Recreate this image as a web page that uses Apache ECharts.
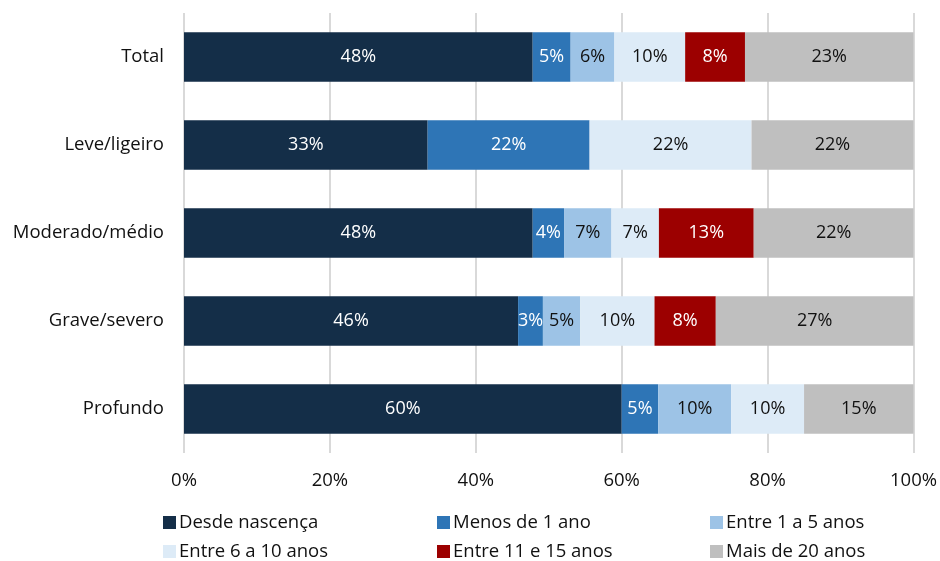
<!DOCTYPE html>
<html>
<head>
<meta charset="utf-8">
<script src="https://cdn.jsdelivr.net/npm/echarts@6/dist/echarts.min.js"></script>
<style>
  html, body { margin: 0; padding: 0; background: #fff; }
  #chart { width: 940px; height: 561px; }
</style>
</head>
<body>
<div id="chart"></div>
<script>
// Categories, top to bottom
const categories = ['Total', 'Leve/ligeiro', 'Moderado/médio', 'Grave/severo', 'Profundo'];

// Share of respondents (%) per duration group
const desdeNascenca = [47.8, 33.4, 47.8, 45.8, 60.0];
const menosDe1Ano   = [5.2, 22.2, 4.3, 3.4, 5.0];
const entre1e5      = [6.0, 0, 6.5, 5.1, 10.0];
const entre6e10     = [9.7, 22.2, 6.5, 10.2, 10.0];
const entre11e15    = [8.2, 0, 13.0, 8.4, 0];
const maisDe20      = [23.1, 22.2, 21.9, 27.1, 15.0];

const seriesNames = ['Desde nascença', 'Menos de 1 ano', 'Entre 1 a 5 anos',
                     'Entre 6 a 10 anos', 'Entre 11 e 15 anos', 'Mais de 20 anos'];
const seriesData = [desdeNascenca, menosDe1Ano, entre1e5, entre6e10, entre11e15, maisDe20];
const colors = ['#142e48', '#2e75b6', '#9dc3e6', '#ddebf7', '#9c0000', '#bfbfbf'];
const labelColors = ['#ffffff', '#ffffff', '#111111', '#111111', '#ffffff', '#111111'];

const xTicks = [0, 20, 40, 60, 80, 100];

const FONT = '"Open Sans", sans-serif';

const series = seriesNames.map((name, i) => ({
  name: name,
  type: 'bar',
  stack: 'total',
  barWidth: '56%',
  data: seriesData[i],
  itemStyle: { color: colors[i] },
  label: {
    show: true,
    position: 'inside',
    color: labelColors[i],
    fontFamily: FONT,
    fontSize: 18,
    formatter: p => p.value > 0 ? Math.round(p.value) + '%' : ''
  },
  emphasis: { disabled: true }
}));

// One legend block per entry, laid out as a 3x2 grid
const legendPos = [
  [158, 508], [432, 508], [705, 508],
  [158, 537], [432, 537], [705, 537]
];
const legends = seriesNames.map((name, i) => ({
  data: [name],
  left: legendPos[i][0],
  top: legendPos[i][1],
  itemWidth: 13,
  itemHeight: 13,
  itemGap: 4,
  icon: 'rect',
  selectedMode: false,
  textStyle: { fontFamily: FONT, fontSize: 18.5, color: '#111', padding: [0, 0, 0, -2] }
}));

const chart = echarts.init(document.getElementById('chart'), null, { renderer: 'canvas' });
chart.setOption({
  animation: false,
  color: colors,
  grid: { left: 184, right: 24, top: 13, bottom: 108, containLabel: false },
  legend: legends,
  xAxis: {
    type: 'value',
    min: 0,
    max: 100,
    interval: 20,
    axisLine: { show: false },
    axisTick: { show: false },
    splitLine: { lineStyle: { color: '#d9d9d9', width: 2 } },
    axisLabel: {
      margin: 18,
      fontFamily: FONT,
      fontSize: 18.5,
      color: '#111',
      formatter: v => xTicks.includes(v) ? v + '%' : ''
    }
  },
  yAxis: {
    type: 'category',
    data: categories,
    inverse: true,
    axisLine: { show: false },
    axisTick: { show: false },
    axisLabel: {
      margin: 20,
      fontFamily: FONT,
      fontSize: 18.5,
      color: '#111'
    }
  },
  series: series
});
</script>
</body>
</html>
